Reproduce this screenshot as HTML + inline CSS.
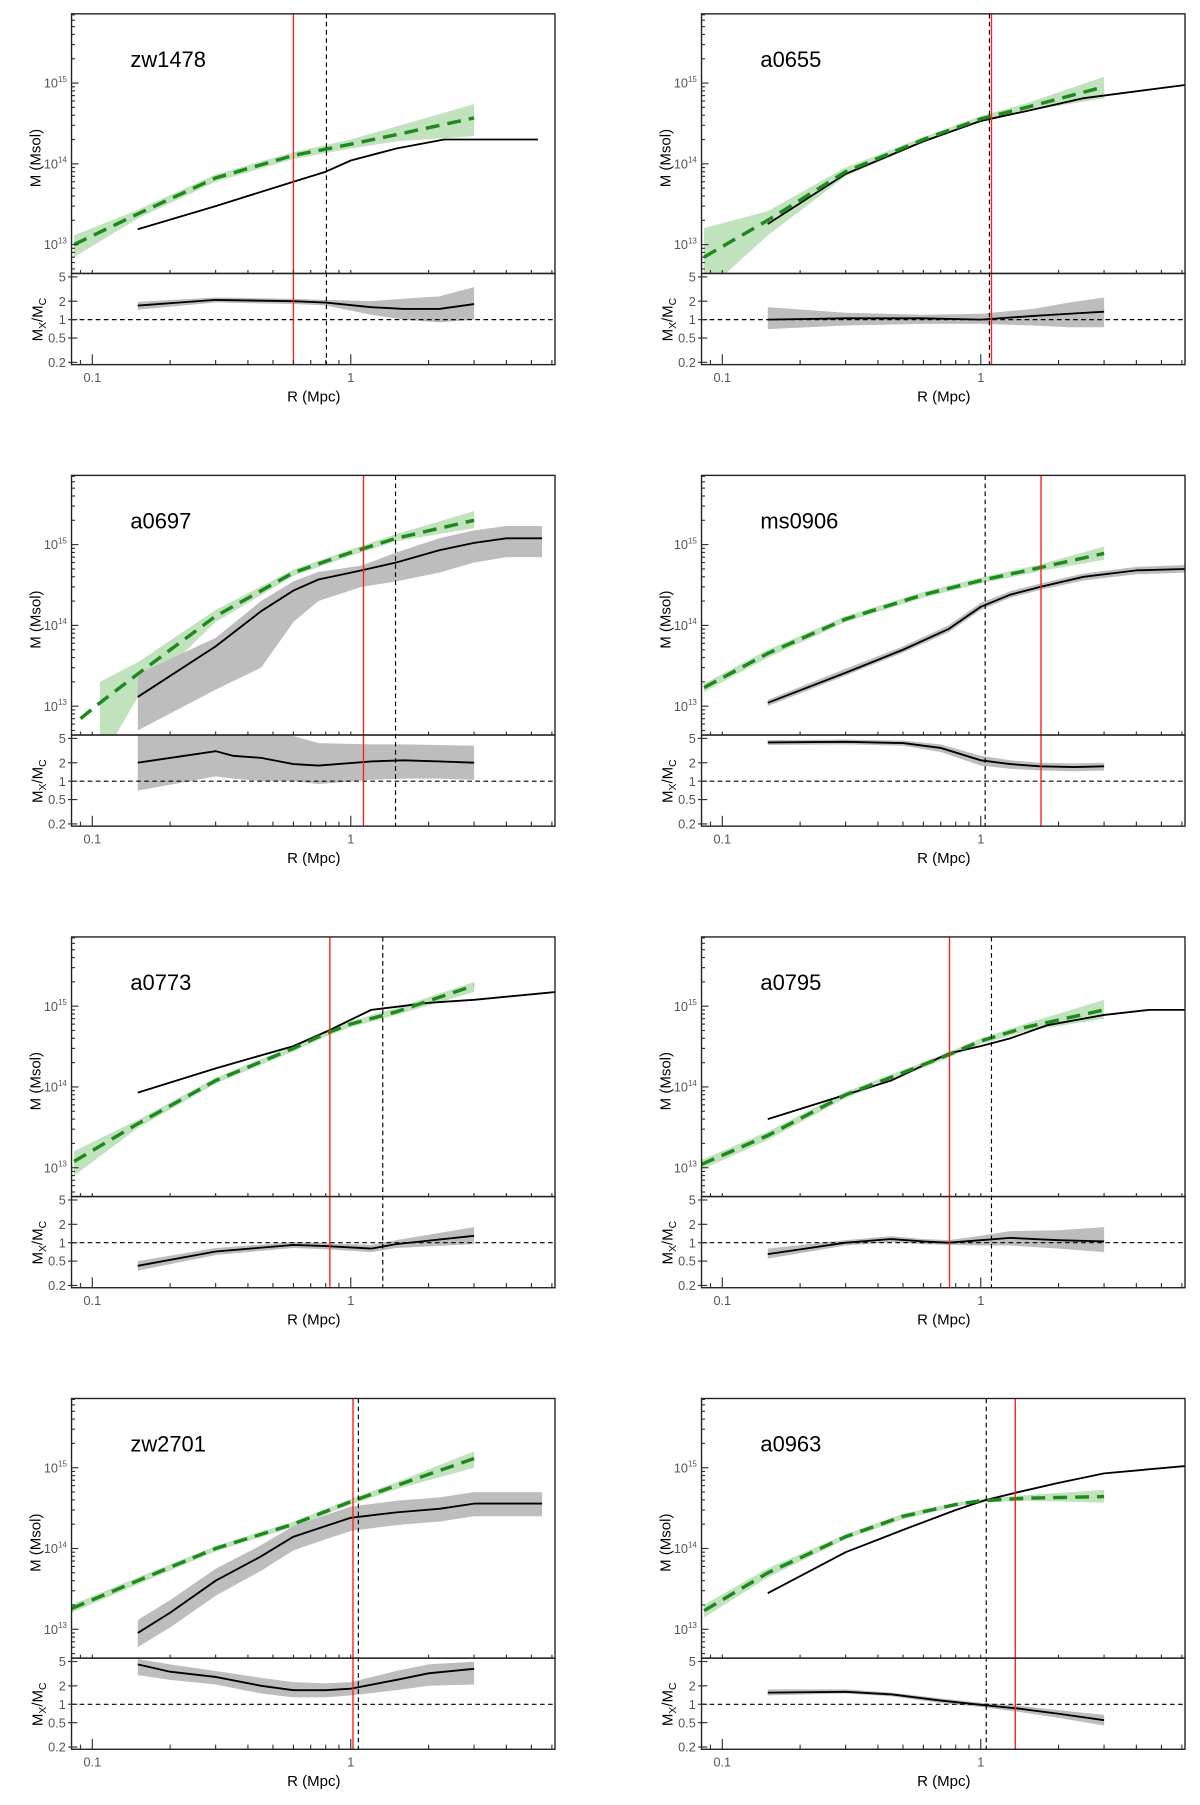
<!DOCTYPE html>
<html><head><meta charset="utf-8"><style>
html,body{margin:0;padding:0;background:#fff;}
svg{display:block;font-family:"Liberation Sans",sans-serif;}
</style></head><body>
<svg id="fig" width="1200" height="1805" viewBox="0 0 1040 1564.3" preserveAspectRatio="none" xmlns="http://www.w3.org/2000/svg"></svg>
<script>
// ---------- data ----------
const panelNames = ["zw1478","a0655","a0697","ms0906","a0773","a0795","zw2701","a0963"];
// green (model) profiles
const gR = [
 [0.085,0.15,0.3,0.6,1,1.5,3],
 [0.085,0.15,0.3,0.6,1,1.5,3],
 [0.09,0.107,0.15,0.3,0.6,1,1.5,3],
 [0.085,0.15,0.3,0.6,1,1.7,3],
 [0.085,0.15,0.3,0.6,0.8,1,1.5,3],
 [0.083,0.15,0.3,0.5,0.75,1,1.5,3],
 [0.083,0.15,0.3,0.6,1,1.5,3],
 [0.085,0.15,0.3,0.5,0.8,1,1.5,3]];
const gM = [
 [1e13,2.4e13,6.7e13,1.27e14,1.75e14,2.3e14,3.7e14],
 [7e12,2e13,8e13,2e14,3.6e14,5e14,9e14],
 [7e12,1.1e13,2.5e13,1.3e14,4.5e14,8e14,1.2e15,2e15],
 [1.7e13,4.5e13,1.2e14,2.4e14,3.6e14,5.2e14,7.8e14],
 [1.2e13,3.5e13,1.2e14,3e14,4.6e14,6e14,8.5e14,1.8e15],
 [1.1e13,2.5e13,8e13,1.5e14,2.5e14,3.7e14,5.5e14,9e14],
 [1.8e13,4e13,1e14,2e14,3.8e14,6e14,1.3e15],
 [1.7e13,5e13,1.4e14,2.5e14,3.5e14,3.9e14,4.2e14,4.4e14]];
const gLo = [
 [7e12,2.1e13,6e13,1.15e14,1.55e14,1.9e14,2.2e14],
 [2.5e12,1.3e13,7e13,1.85e14,3.3e14,4.5e14,6.5e14],
 [null,2e12,1.3e13,1.1e14,4.1e14,7.3e14,1.1e15,1.6e15],
 [1.5e13,4e13,1.1e14,2.2e14,3.3e14,4.7e14,6.5e14],
 [8e12,3.1e13,1.1e14,2.75e14,4.2e14,5.5e14,7.8e14,1.5e15],
 [9.5e12,2.2e13,7.3e13,1.38e14,2.3e14,3.4e14,4.9e14,7e14],
 [1.6e13,3.6e13,9.2e13,1.85e14,3.5e14,5.4e14,1e15],
 [1.4e13,4.4e13,1.3e14,2.3e14,3.3e14,3.7e14,3.9e14,3.7e14]];
const gHi = [
 [1.3e13,2.7e13,7.4e13,1.4e14,2e14,2.9e14,5.5e14],
 [1.6e13,2.6e13,9e13,2.15e14,3.9e14,5.6e14,1.2e15],
 [null,2e13,3.5e13,1.55e14,4.9e14,8.7e14,1.35e15,2.6e15],
 [1.9e13,5e13,1.3e14,2.6e14,3.9e14,5.7e14,9.5e14],
 [1.6e13,3.9e13,1.3e14,3.25e14,5e14,6.5e14,9.5e14,2e15],
 [1.25e13,2.8e13,8.7e13,1.62e14,2.7e14,4e14,6.1e14,1.2e15],
 [2e13,4.4e13,1.08e14,2.15e14,4.1e14,6.6e14,1.6e15],
 [2e13,5.7e13,1.5e14,2.7e14,3.7e14,4.1e14,4.6e14,5.3e14]];
// black (X-ray) profiles
const bR = [
 [0.15,0.3,0.6,0.8,1,1.5,2.3,5.3],
 [0.15,0.3,0.6,1,1.5,2.5,6.2],
 [0.15,0.3,0.45,0.6,0.75,1.1,1.5,2.2,3,4,5.5],
 [0.15,0.3,0.5,0.75,1,1.3,1.7,2.5,4,6.2],
 [0.15,0.3,0.6,0.8,1.2,2,3,6.2],
 [0.15,0.3,0.45,0.75,1,1.3,1.8,3,4.5,6.2],
 [0.15,0.2,0.3,0.45,0.6,0.8,1,1.5,2.2,3,5.5],
 [0.15,0.3,0.5,0.8,1.05,1.4,2,3,6.2]];
const bM = [
 [1.55e13,3e13,6e13,8e13,1.1e14,1.55e14,2e14,2e14],
 [1.8e13,7.5e13,1.9e14,3.4e14,4.5e14,6.5e14,9.5e14],
 [1.3e13,5.5e13,1.5e14,2.7e14,3.7e14,4.8e14,6e14,8.5e14,1.05e15,1.2e15,1.2e15],
 [1.1e13,2.6e13,5e13,9e13,1.7e14,2.4e14,3e14,4e14,4.8e14,5e14],
 [8.5e13,1.7e14,3.2e14,4.8e14,9e14,1.1e15,1.2e15,1.5e15],
 [4e13,8e13,1.2e14,2.6e14,3.2e14,4e14,5.8e14,7.8e14,9e14,9e14],
 [9e12,1.6e13,4e13,8e13,1.4e14,1.9e14,2.4e14,2.8e14,3.1e14,3.6e14,3.6e14],
 [2.8e13,9e13,1.7e14,3e14,4e14,5e14,6.5e14,8.5e14,1.05e15]];
const bLo = [null,null,
 [5e12,1.6e13,3e13,1.1e14,2e14,3e14,3.5e14,4.5e14,6e14,7e14,7e14],
 [1e13,2.4e13,4.6e13,8.2e13,1.55e14,2.2e14,2.75e14,3.6e14,4.3e14,4.5e14],
 null,null,
 [6e12,1.05e13,2.6e13,5.3e13,9.5e13,1.3e14,1.65e14,1.95e14,2.15e14,2.5e14,2.5e14],
 null];
const bHi = [null,null,
 [2.5e13,7e13,2e14,3.5e14,4.6e14,5.5e14,8e14,1.2e15,1.5e15,1.7e15,1.7e15],
 [1.2e13,2.9e13,5.5e13,1e14,1.9e14,2.65e14,3.3e14,4.4e14,5.3e14,5.6e14],
 null,null,
 [1.3e13,2.3e13,5.6e13,1.1e14,1.9e14,2.6e14,3.3e14,3.9e14,4.3e14,5e14,5e14],
 null];
// ratio Mx/Mc
const rR = [
 [0.15,0.3,0.6,0.8,1.2,1.6,2.2,3],
 [0.15,0.3,0.6,1,1.6,2.2,3],
 [0.15,0.3,0.35,0.45,0.6,0.75,1.2,1.6,2.2,3],
 [0.15,0.3,0.5,0.7,1,1.3,1.7,2.3,3],
 [0.15,0.3,0.6,0.8,1.2,1.5,3],
 [0.15,0.3,0.45,0.6,0.75,1,1.3,2,3],
 [0.15,0.2,0.3,0.45,0.6,0.8,1,1.5,2,3],
 [0.15,0.3,0.45,0.7,1,1.4,2,3]];
const rV = [
 [1.7,2.1,2.0,1.9,1.6,1.5,1.5,1.8],
 [1.0,1.05,1.05,1.0,1.15,1.25,1.35],
 [2.0,3.1,2.6,2.4,1.9,1.8,2.1,2.2,2.1,2.0],
 [4.3,4.4,4.2,3.5,2.2,1.9,1.75,1.7,1.75],
 [0.42,0.72,0.92,0.88,0.8,0.95,1.3],
 [0.65,1.0,1.15,1.05,1.0,1.1,1.2,1.1,1.05],
 [4.5,3.4,2.8,2.0,1.7,1.7,1.8,2.5,3.2,3.8],
 [1.55,1.6,1.45,1.15,0.98,0.85,0.7,0.55]];
const rLo = [
 [1.45,1.9,1.8,1.7,1.2,1.0,0.9,1.0],
 [0.7,0.8,0.85,0.85,0.8,0.75,0.75],
 [0.7,1.2,1.1,1.0,1.0,0.9,1.05,1.1,1.1,1.05],
 [3.9,4.0,3.8,3.0,1.8,1.6,1.5,1.45,1.5],
 [0.35,0.63,0.82,0.78,0.7,0.82,0.95],
 [0.55,0.9,1.02,0.95,0.92,0.9,0.9,0.8,0.7],
 [3.0,2.5,2.1,1.5,1.3,1.3,1.4,1.7,2.0,2.1],
 [1.4,1.5,1.35,1.05,0.9,0.75,0.6,0.45]];
const rHi = [
 [1.95,2.3,2.2,2.1,2.0,2.2,2.4,3.4],
 [1.6,1.3,1.2,1.25,1.5,1.9,2.3],
 [6,6,6,6,5.5,4.2,4,4,3.9,3.8],
 [4.7,4.8,4.6,4.0,2.6,2.2,2.0,1.95,2.0],
 [0.5,0.82,1.02,0.98,0.92,1.1,1.8],
 [0.8,1.1,1.28,1.15,1.1,1.3,1.55,1.6,1.8],
 [5.5,4.5,3.5,2.7,2.3,2.2,2.3,3.5,4.5,5],
 [1.75,1.75,1.55,1.25,1.06,0.95,0.8,0.67]];
const redR = [0.6,1.10,1.12,1.71,0.83,0.757,1.02,1.36];
const dashR = [0.805,1.08,1.49,1.04,1.33,1.10,1.07,1.05];
const massTicks = [13,14,15];
const ratioTicks = ["5","2","1","0.5","0.2"];
const xTickLabels = ["0.1","1"];

// ---------- drawing ----------
const svg = document.getElementById('fig');
const NS = "http://www.w3.org/2000/svg";
function mk(tag, attrs, parent){
  const e = document.createElementNS(NS, tag);
  for (const k in attrs) e.setAttribute(k, attrs[k]);
  (parent||svg).appendChild(e);
  return e;
}
const W = 419, TOPH = 225, BOTH = 79;
function pts(xs, ys, fx, fy){
  const out=[];
  for(let i=0;i<xs.length;i++){ if(ys[i]==null) continue; out.push(fx(xs[i]).toFixed(1)+","+fy(ys[i]).toFixed(1)); }
  return out;
}
function bandPath(xs, lo, hi, fx, fy){
  const a=[],b=[];
  for(let i=0;i<xs.length;i++){ if(lo[i]==null||hi[i]==null) continue; a.push(fx(xs[i]).toFixed(1)+","+fy(hi[i]).toFixed(1)); b.unshift(fx(xs[i]).toFixed(1)+","+fy(lo[i]).toFixed(1)); }
  return "M"+a.concat(b).join(" L")+" Z";
}
for (let p=0;p<8;p++){
  const col = p%2, row = Math.floor(p/2);
  const L = col ? 608 : 62, T = 12 + row*400;
  const D = T+TOPH, B = D+BOTH;
  const x0 = L+18; // 0.1
  const fx = r => x0 + 224*(Math.log10(r)+1);
  const fy = m => (T+200) - 70*(Math.log10(m)-13);
  const fr = v => (D+40) - 53*Math.log10(v);
  const g = mk('g',{});
  
  
  const cid='clipT'+p, cid2='clipB'+p;
  const defs=mk('defs',{},g);
  mk('rect',{x:L,y:T,width:W,height:TOPH},mk('clipPath',{id:cid},defs));
  mk('rect',{x:L,y:D,width:W,height:BOTH},mk('clipPath',{id:cid2},defs));
  const gt = mk('g',{'clip-path':'url(#'+cid+')'},g);
  const gb = mk('g',{'clip-path':'url(#'+cid2+')'},g);
  const gband = mk('path',{d:bandPath(gR[p],gLo[p],gHi[p],fx,fy),fill:'#b5ddb0',opacity:'0.85'},gt);
  
  
  if (bLo[p]){
    const bb = mk('path',{d:bandPath(bR[p],bLo[p],bHi[p],fx,fy),fill:'#bdbdbd'},gt);
    
    
  }
  const rb = mk('path',{d:bandPath(rR[p],rLo[p],rHi[p],fx,fr),fill:'#bdbdbd'},gb);
  
  
  const u = mk('line',{x1:L,x2:L+W,y1:fr(1),y2:fr(1),stroke:'#000','stroke-width':1,'stroke-dasharray':'4,3'},gb);
  
  
  const bl = mk('polyline',{points:pts(bR[p],bM[p],fx,fy).join(" "),fill:'none',stroke:'#000','stroke-width':1.6,'stroke-linejoin':'round'},gt);
  
  
  const gl = mk('polyline',{points:pts(gR[p],gM[p],fx,fy).join(" "),fill:'none',stroke:'#1e8a1e','stroke-width':3,'stroke-dasharray':'12,7'},gt);
  
  
  const rl = mk('polyline',{points:pts(rR[p],rV[p],fx,fr).join(" "),fill:'none',stroke:'#000','stroke-width':1.6},gb);
  
  
  const dv = mk('line',{x1:fx(dashR[p]),x2:fx(dashR[p]),y1:T,y2:B,stroke:'#000','stroke-width':1,'stroke-dasharray':'4,3'},g);
  
  
  const rv = mk('line',{x1:fx(redR[p]),x2:fx(redR[p]),y1:T,y2:B,stroke:'#ff2020','stroke-width':1.2},g);
  
  
  const f1 = mk('rect',{x:L,y:T,width:W,height:TOPH,fill:'none',stroke:'#222','stroke-width':1.2},g);
  
  
  const f2 = mk('rect',{x:L,y:D,width:W,height:BOTH,fill:'none',stroke:'#222','stroke-width':1.2},g);
  
  
  for (let e=12;e<=15;e++){
    for (let k=1;k<10;k++){
      const y = fy(k*Math.pow(10,e));
      if (y<T||y>D) continue;
      mk('line',{x1:L,x2:L+(k===1?6:3),y1:y,y2:y,stroke:'#333','stroke-width':1},g);
    }
  }
  massTicks.forEach(e=>{
    const t = mk('text',{x:L-4,y:fy(Math.pow(10,e))+4,'text-anchor':'end','font-size':11,fill:'#555'},g);
    
    
    t.appendChild(document.createTextNode('10'));
    const s = mk('tspan',{dy:-5,'font-size':7},t); s.textContent = String(e);
  });
  ratioTicks.forEach(v=>{
    const y = fr(parseFloat(v));
    mk('line',{x1:L-3,x2:L+5,y1:y,y2:y,stroke:'#333','stroke-width':1},g);
    const t = mk('text',{x:L-5,y:y+4,'text-anchor':'end','font-size':11,fill:'#555'},g);
    
    
    t.textContent = v;
  });
  for (let e=-2;e<=0;e++){
    for (let k=1;k<10;k++){
      const x = fx(k*Math.pow(10,e));
      if (x<L||x>L+W) continue;
      const len = k===1?9:4;
      mk('line',{x1:x,x2:x,y1:B,y2:B-len,stroke:'#333','stroke-width':1},g);
      mk('line',{x1:x,x2:x,y1:D,y2:D-3,stroke:'#333','stroke-width':1},g);
    }
  }
  xTickLabels.forEach(v=>{
    const t = mk('text',{x:fx(parseFloat(v)),y:B+15,'text-anchor':'middle','font-size':11,fill:'#555'},g);
    
    
    t.textContent = v;
  });
  const nm = mk('text',{x:L+51,y:T+46,'font-size':19,fill:'#000'},g);
  
  
  nm.textContent = panelNames[p];
  const xl = mk('text',{x:L+210,y:B+32,'text-anchor':'middle','font-size':13,fill:'#000'},g);
  
  
  xl.textContent = 'R  (Mpc)';
  const yl = mk('text',{x:0,y:0,'text-anchor':'middle','font-size':13,fill:'#000',transform:'translate('+(L-27)+','+(T+125)+') rotate(-90)'},g);
  
  
  yl.textContent = 'M  (Msol)';
  const rlab = mk('text',{x:0,y:0,'text-anchor':'middle','font-size':13,fill:'#000',transform:'translate('+(L-25)+','+(D+40)+') rotate(-90)'},g);
  
  
  rlab.appendChild(document.createTextNode('M'));
  const s1 = mk('tspan',{dy:3,'font-size':9},rlab); s1.textContent='X';
  const s2 = mk('tspan',{dy:-3},rlab); s2.textContent='/M';
  const s3 = mk('tspan',{dy:3,'font-size':9},rlab); s3.textContent='C';
}
</script>
</body></html>
